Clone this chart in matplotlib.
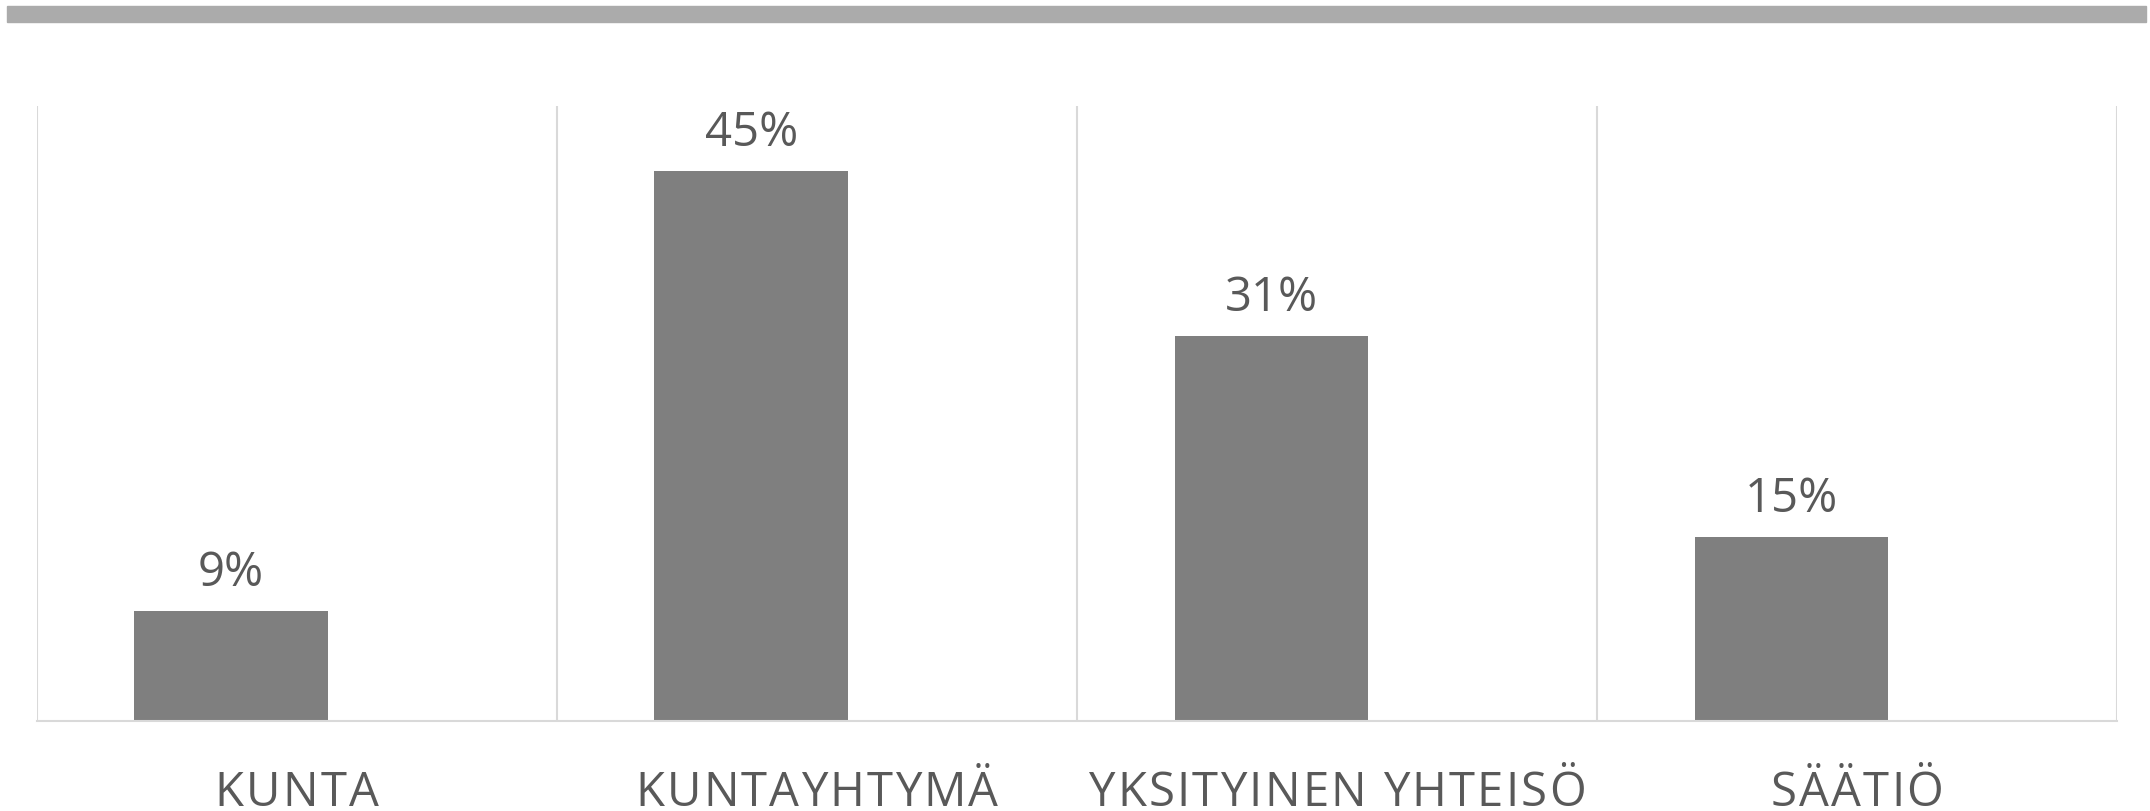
import matplotlib
matplotlib.use("Agg")
import matplotlib.pyplot as plt
from matplotlib.patches import Rectangle

# Données du graphique
categories = ["KUNTA", "KUNTAYHTYMÄ", "YKSITYINEN YHTEISÖ", "SÄÄTIÖ"]
osuudet = [8.9, 44.7, 31.3, 14.9]
etiketit = ["9%", "45%", "31%", "15%"]

plt.rcParams['font.family'] = ['Open Sans', 'DejaVu Sans']
texte = "#595959"

fig = plt.figure(figsize=(21.5, 8.12), dpi=100)
renderer = fig.canvas.get_renderer()

# Bande grise en haut de la figure
fig.patches.append(Rectangle((7 / 2150, 1 - 23 / 812), 2139 / 2150, 16 / 812,
                             transform=fig.transFigure, color="#ABABAB", zorder=0))

ax = fig.add_axes([36.5 / 2150, 1 - 721.5 / 812, (2117 - 36.5) / 2150, (721.5 - 107) / 812])

x = list(range(len(categories)))
pos = [i - 0.126 for i in x]
barres = ax.bar(pos, osuudet, width=0.372, color="#7F7F7F", zorder=2)

ax.set_xlim(-0.5, len(categories) - 0.5)
ax.set_ylim(0, 50)

# Lignes verticales de séparation
for s in [i - 0.5 for i in range(len(categories) + 1)]:
    ax.axvline(s, color="#D9D9D9", lw=1.5, zorder=1)

for cote in ["top", "right", "left"]:
    ax.spines[cote].set_visible(False)
ax.spines["bottom"].set_color("#D9D9D9")
ax.spines["bottom"].set_linewidth(1.5)
ax.set_xticks([])
ax.set_yticks([])

# Étiquettes des valeurs
for b, lab in zip(barres, etiketit):
    ax.annotate(lab, (b.get_x() + b.get_width() / 2, b.get_height()),
                xytext=(0, 18.7), textcoords="offset points",
                ha="center", va="baseline", fontsize=34, color=texte)


def largeur(s, taille):
    # largeur en pixels d'une chaîne (le "|" garde les espaces finaux)
    t = fig.text(0, 0, s + "|", fontsize=taille)
    r = fig.text(0, 0, "|", fontsize=taille)
    w = t.get_window_extent(renderer).width - r.get_window_extent(renderer).width
    t.remove()
    r.remove()
    return w


# Noms des catégories, avec un léger espacement des lettres
espacement = 2.2
for i, c in zip(x, categories):
    total = largeur(c, 34) + espacement * (len(c) - 1)
    for k, ch in enumerate(c):
        dx = -total / 2 + largeur(c[:k], 34) + espacement * k
        ax.annotate(ch, (i, -0.1375), xycoords=ax.get_xaxis_transform(),
                    xytext=(dx, 0), textcoords="offset pixels",
                    ha="left", va="baseline", fontsize=34, color=texte,
                    annotation_clip=False)

fig.savefig("out.png", dpi=100)
